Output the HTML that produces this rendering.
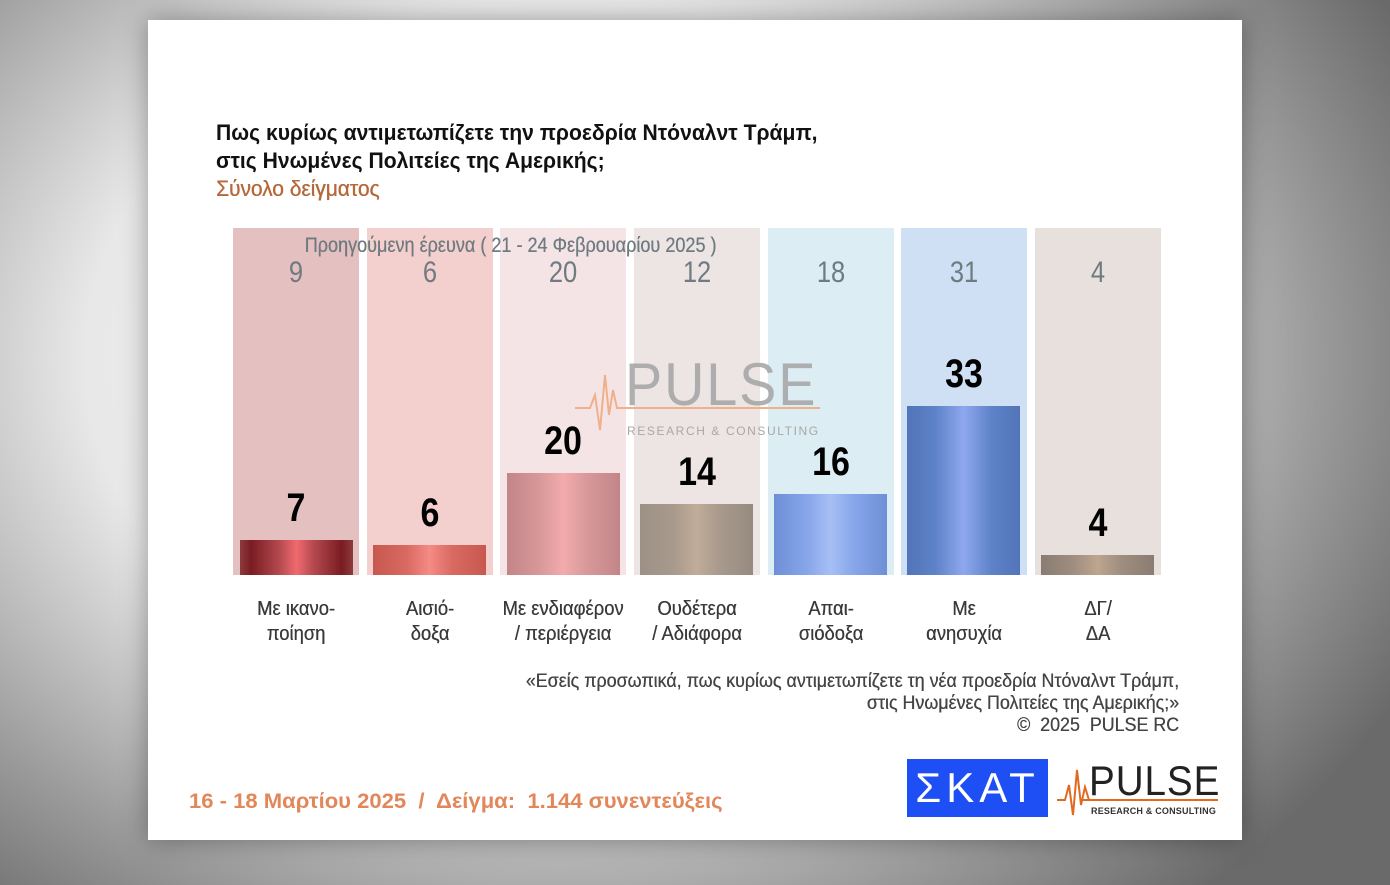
<!DOCTYPE html>
<html><head><meta charset="utf-8"><style>
*{margin:0;padding:0;box-sizing:border-box}
body{width:1390px;height:885px;overflow:hidden;position:relative;font-family:"Liberation Sans","DejaVu Sans Condensed",sans-serif;
background:radial-gradient(ellipse 950px 720px at 560px 360px,#f6f6f6 0%,#e8e8e8 50%,#9a9a9a 80%,#6a6a6a 100%);}
.card{position:absolute;left:148px;top:20px;width:1094px;height:820px;background:#fff;box-shadow:0 0 25px rgba(0,0,0,.35)}
.a{position:absolute;white-space:nowrap}
.col{position:absolute;top:228px;height:347px;width:126px}
.prev{position:absolute;top:256px;width:126px;text-align:center;font-size:30px;color:#6f7b80;transform:scaleX(.85)}
.val{position:absolute;width:126px;text-align:center;font-size:40px;font-weight:bold;color:#000;transform:scaleX(.85)}
.lab{position:absolute;top:597px;width:160px;text-align:center;font-size:20px;line-height:25px;color:#3a3a3a;transform:scaleX(.92);text-shadow:0.3px 0 0 #3a3a3a}
</style></head><body>
<div class="card"></div>
<div class="a" style="left:216px;top:119px;font-size:22px;font-weight:bold;line-height:28px;color:#111;transform:scaleX(.96);transform-origin:0 0">Πως κυρίως αντιμετωπίζετε την προεδρία Ντόναλντ Τράμπ,<br>στις Ηνωμένες Πολιτείες της Αμερικής;</div>
<div class="a" style="left:216px;top:176px;font-size:22px;color:#b5683a;transform:scaleX(.95);transform-origin:0 0;text-shadow:0.4px 0 0 #b5683a">Σύνολο δείγματος</div>

<div class="col" style="left:233px;background:#e5c0c1"></div>
<div class="col" style="left:367px;background:#f3cfcd"></div>
<div class="col" style="left:500px;background:#f5e4e5"></div>
<div class="col" style="left:634px;background:#ede4e4"></div>
<div class="col" style="left:768px;background:#dcedf4"></div>
<div class="col" style="left:901px;background:#cfe0f5"></div>
<div class="col" style="left:1035px;background:#e8e0dc"></div>

<div class="a" style="left:240px;top:540px;width:113px;height:35px;background:linear-gradient(90deg,#8c3a3e 0%,#7a1c22 10%,#b44a50 35%,#f06a6e 50%,#b44a50 65%,#7a1c22 90%,#8c3a3e 100%)"></div>
<div class="a" style="left:373px;top:545px;width:113px;height:30px;background:linear-gradient(90deg,#c8584f 0%,#d86a62 30%,#f58b85 50%,#d86a62 70%,#c8584f 100%)"></div>
<div class="a" style="left:507px;top:473px;width:113px;height:102px;background:linear-gradient(90deg,#c28588 0%,#d9999b 30%,#f3abac 50%,#d9999b 70%,#c28588 100%)"></div>
<div class="a" style="left:640px;top:504px;width:113px;height:71px;background:linear-gradient(90deg,#9d9086 0%,#a89a8c 30%,#c1ac99 50%,#a89a8c 70%,#968a80 100%)"></div>
<div class="a" style="left:774px;top:494px;width:113px;height:81px;background:linear-gradient(90deg,#6e8fd6 0%,#88a6ea 30%,#a6bff5 50%,#88a6ea 70%,#6e8fd6 100%)"></div>
<div class="a" style="left:907px;top:406px;width:113px;height:169px;background:linear-gradient(90deg,#5274b8 0%,#5e82c8 25%,#8ea8ee 50%,#5e82c8 75%,#5274b8 100%)"></div>
<div class="a" style="left:1041px;top:555px;width:113px;height:20px;background:linear-gradient(90deg,#8a7c72 0%,#a08f80 30%,#bea58e 50%,#a08f80 70%,#8a7c72 100%)"></div>

<div class="a" style="left:180px;top:234px;width:661px;text-align:center;font-size:21px;color:#6f7b80;transform:scaleX(.86);text-shadow:0.3px 0 0 #6f7b80">Προηγούμενη έρευνα ( 21 - 24 Φεβρουαρίου 2025 )</div>
<div class="prev" style="left:233px">9</div>
<div class="prev" style="left:367px">6</div>
<div class="prev" style="left:500px">20</div>
<div class="prev" style="left:634px">12</div>
<div class="prev" style="left:768px">18</div>
<div class="prev" style="left:901px">31</div>
<div class="prev" style="left:1035px">4</div>

<div class="a" style="left:625px;top:350px;font-size:60px;letter-spacing:2px;color:#a8a8a8;opacity:.9;transform:scaleX(.93);transform-origin:0 0">PULSE</div>
<div class="a" style="left:627px;top:424px;font-size:12px;letter-spacing:1.6px;color:#a8a8a8">RESEARCH &amp; CONSULTING</div>
<svg class="a" style="left:575px;top:370px" width="250" height="70"><polyline points="0,38 15,38 20,25 25,60 30,5 34,45 38,20 42,38 48,38 245,38" fill="none" stroke="#f0b08a" stroke-width="2"/></svg>

<div class="val" style="left:233px;top:486px">7</div>
<div class="val" style="left:367px;top:491px">6</div>
<div class="val" style="left:500px;top:419px">20</div>
<div class="val" style="left:634px;top:450px">14</div>
<div class="val" style="left:768px;top:440px">16</div>
<div class="val" style="left:901px;top:352px">33</div>
<div class="val" style="left:1035px;top:501px">4</div>

<div class="lab" style="left:216px">Με ικανο-<br>ποίηση</div>
<div class="lab" style="left:350px">Αισιό-<br>δοξα</div>
<div class="lab" style="left:483px">Με ενδιαφέρον<br>/ περιέργεια</div>
<div class="lab" style="left:617px">Ουδέτερα<br>/ Αδιάφορα</div>
<div class="lab" style="left:751px">Απαι-<br>σιόδοξα</div>
<div class="lab" style="left:884px">Με<br>ανησυχία</div>
<div class="lab" style="left:1018px">ΔΓ/<br>ΔΑ</div>

<div class="a" style="right:211px;top:671px;text-align:right;font-size:19px;line-height:22px;color:#444;transform:scaleX(.94);transform-origin:100% 0;text-shadow:0.3px 0 0 #444">«Εσείς προσωπικά, πως κυρίως αντιμετωπίζετε τη νέα προεδρία Ντόναλντ Τράμπ,<br>στις Ηνωμένες Πολιτείες της Αμερικής;»<br>©&nbsp; 2025&nbsp; PULSE RC</div>

<div class="a" style="left:189px;top:790px;font-size:21px;font-weight:bold;color:#e2875a;transform:scaleX(1.05);transform-origin:0 0">16 - 18 Μαρτίου 2025&nbsp; /&nbsp; Δείγμα:&nbsp; 1.144 συνεντεύξεις</div>

<div class="a" style="left:907px;top:759px;width:141px;height:58px;background:#1e4ff5;color:#fff;font-size:42px;text-align:center;line-height:58px;letter-spacing:5px">ΣΚΑΤ</div>
<svg class="a" style="left:1057px;top:765px" width="50" height="55"><polyline points="0,35 8,35 12,20 16,50 20,5 24,40 28,22 32,35 50,35" fill="none" stroke="#e06a20" stroke-width="2"/></svg>
<div class="a" style="left:1089px;top:757px;font-size:42px;letter-spacing:1px;color:#222;line-height:48px;transform:scaleX(.92);transform-origin:0 0">PULSE</div>
<div class="a" style="left:1080px;top:799px;width:138px;height:2px;background:#e06a20"></div>
<div class="a" style="left:1091px;top:806px;font-size:9px;font-weight:bold;letter-spacing:.2px;color:#333">RESEARCH &amp; CONSULTING</div>
</body></html>
